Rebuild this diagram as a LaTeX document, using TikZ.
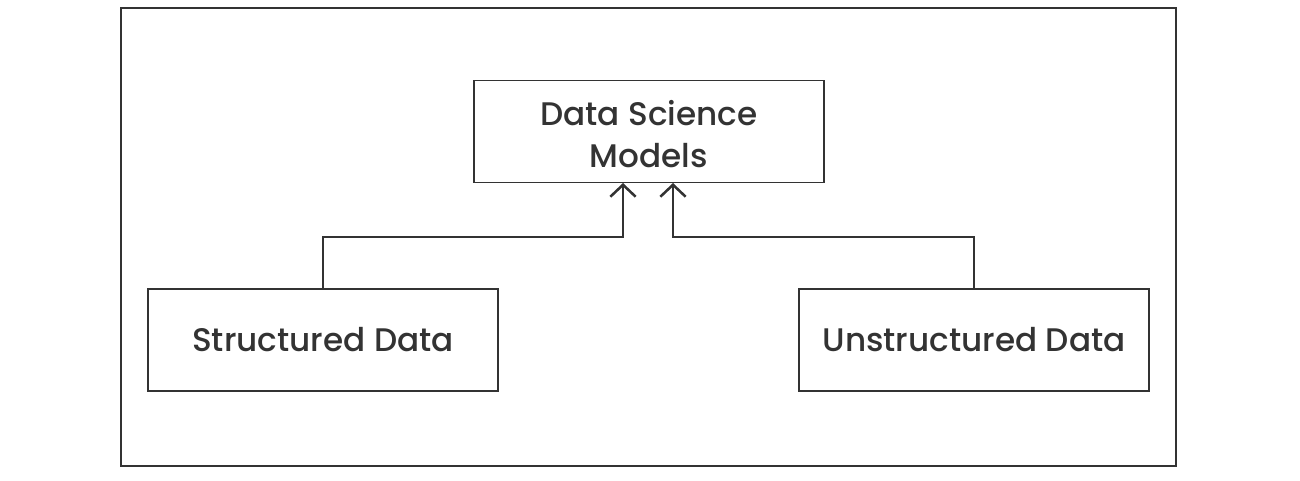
\documentclass[tikz,border=0pt]{standalone}
\usepackage{fontspec}
\setmainfont{Poppins}[UprightFont=* Medium]
\usetikzlibrary{arrows.meta}
\definecolor{ink}{HTML}{333333}
\begin{document}
\begin{tikzpicture}[x=0.75pt,y=-0.75pt,
  boxnode/.style={draw=ink,line width=1.1pt,minimum width=262.5pt,minimum height=76.5pt,inner sep=0pt,align=center,font=\fontsize{24.5}{31}\selectfont,text=ink},
  conn/.style={draw=ink,line width=1.9pt,-{Straight Barb[length=9pt,width=19pt,line width=1.9pt]}}]
\useasboundingbox (0,0) rectangle (1300,480);
\draw[ink,line width=0.9pt] (121,8) rectangle (1176,466);
\node[boxnode] (top) at (649,131.5) {};
\node[align=center,font=\fontsize{24.5}{31}\selectfont,text=ink,inner sep=0pt] (toptext) at (649,134) {Data Science\\Models};
\node[boxnode] (left) at (323,340) {Structured Data};
\node[boxnode] (right) at (974,340) {Unstructured Data};
\coordinate (tl) at (623,183);
\coordinate (tr) at (673,183);
\draw[conn] (left.north) |- (623,237) -- (tl);
\draw[conn] (right.north) |- (673,237) -- (tr);
\end{tikzpicture}
\end{document}
